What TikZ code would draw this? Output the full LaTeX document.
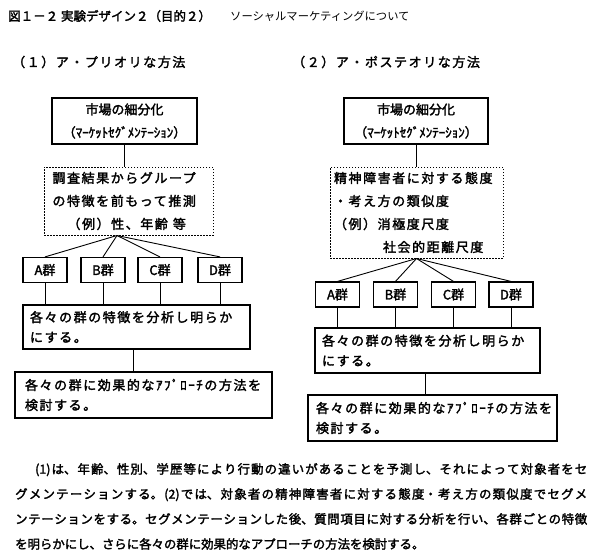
\documentclass[tikz,border=0pt]{standalone}
\usepackage{fontspec}
\setmainfont{Noto Sans CJK JP}[AutoFakeBold=2.2]
\newfontfamily\jpancho{Noto Sans CJK JP}[LetterSpace=12,AutoFakeBold=2.2]
\usetikzlibrary{positioning}
\tikzset{
	caja/.style={
		draw=black,
		line width=1.2pt,
		inner sep=0pt,
		align=left,
		font=\jpancho\bfseries\fontsize{13}{20}\selectfont
	},
	cajaMercado/.style={
		caja,
		minimum width=145pt,
		minimum height=46pt,
		align=center,
		font=\bfseries\fontsize{13}{23}\selectfont
	},
	cajaPunteada/.style={
		caja,
		line width=1pt,
		dash pattern=on 1.5pt off 1.5pt,
		font=\jpancho\bfseries\fontsize{13}{23}\selectfont
	},
	grupo/.style={
		draw=black,
		line width=1.2pt,
		minimum width=44pt,
		minimum height=25pt,
		inner sep=0pt,
		font=\bfseries\fontsize{13}{14}\selectfont
	},
	titulo/.style={
		anchor=west,
		inner sep=0pt
	},
	linea/.style={
		line width=0.9pt
	}
}

\begin{document}
\begin{tikzpicture}[x=1pt,y=-1pt]
		\useasboundingbox (0,0) rectangle (600,558);
		% titulos
		\node[titulo, font=\bfseries\fontsize{12.5}{14}\selectfont] (fig) at (8,16) {図１－２ 実験デザイン２（目的２）};
		\node[titulo, font=\fontsize{11.3}{14}\selectfont] (tema) at (230,16) {ソーシャルマーケティングについて};
		\node[titulo, font=\jpancho\bfseries\fontsize{13}{14}\selectfont] (metodo1) at (12,62) {（１）ア・プリオリな方法};
		\node[titulo, font=\jpancho\bfseries\fontsize{13}{14}\selectfont] (metodo2) at (292,62) {（２）ア・ポステオリな方法};
		% (1) a priori
		\node[cajaMercado] (mercado1) at (124.5,121) {市場の細分化\\（ﾏｰｹｯﾄｾｸﾞﾒﾝﾃｰｼｮﾝ）};
		\node[cajaPunteada, minimum width=169pt, minimum height=68pt, text width=152pt] (prediv1) at (128.5,201)
			{調査結果からグループ\\の特徴を前もって推測\\\hspace*{15pt}（例）性、年齢\hspace{5pt}等};
		\node[grupo] (grupoA1) at (45,270) {A群};
		\node[grupo] (grupoB1) at (103,270) {B群};
		\node[grupo] (grupoC1) at (160,270) {C群};
		\node[grupo] (grupoD1) at (220,270) {D群};
		\node[caja, minimum width=227pt, minimum height=44pt, text width=213pt] (analisis1) at (136.5,327)
			{各々の群の特徴を分析し明らか\\にする。};
		\node[caja, minimum width=257pt, minimum height=46pt, text width=237pt] (enfoque1) at (143.5,395)
			{各々の群に効果的なｱﾌﾟﾛｰﾁの方法を\\検討する。};
		% (2) a posteriori
		\node[cajaMercado, minimum width=144pt] (mercado2) at (416,121) {市場の細分化\\（ﾏｰｹｯﾄｾｸﾞﾒﾝﾃｰｼｮﾝ）};
		\node[cajaPunteada, minimum width=173pt, minimum height=91pt, text width=165pt] (prediv2) at (416.5,212.5)
			{精神障害者に対する態度\\・考え方の類似度\\（例）消極度尺度\\\hspace*{49pt}社会的距離尺度};
		\node[grupo] (grupoA2) at (337.5,294.5) {A群};
		\node[grupo] (grupoB2) at (395.5,294.5) {B群};
		\node[grupo] (grupoC2) at (453.5,294.5) {C群};
		\node[grupo] (grupoD2) at (511,294.5) {D群};
		\node[caja, minimum width=225pt, minimum height=45pt, text width=211pt] (analisis2) at (427.5,350.5)
			{各々の群の特徴を分析し明らか\\にする。};
		\node[caja, minimum width=249pt, minimum height=46pt, text width=233pt] (enfoque2) at (432.5,418)
			{各々の群に効果的なｱﾌﾟﾛｰﾁの方法を\\検討する。};
		% conexiones
		\draw[linea] (mercado1.south) -- (mercado1.south |- prediv1.north);
		\draw[linea] (mercado2.south) -- (mercado2.south |- prediv2.north);
		\foreach \g in {A,B,C,D} {
			\draw[linea] ([xshift=-11.5pt]prediv1.south) -- (grupo\g1.north);
			\draw[linea] (prediv2.south) -- (grupo\g2.north);
			\draw[linea] (grupo\g1.south) -- (grupo\g1.south |- analisis1.north);
			\draw[linea] (grupo\g2.south) -- (grupo\g2.south |- analisis2.north);
		}
		\draw[linea] ([xshift=-3pt]analisis1.south) -- ([xshift=-3pt]analisis1.south |- enfoque1.north);
		\draw[linea] ([xshift=-2pt]analisis2.south) -- ([xshift=-2pt]analisis2.south |- enfoque2.north);
		% texto
		\node[anchor=north west, inner sep=0pt, text width=572pt, align=justify,
			font=\bfseries\fontsize{12.4}{25}\selectfont] (texto) at (15,463)
			{\XeTeXlinebreaklocale "ja"\XeTeXlinebreakskip=0pt plus 4pt
			\hspace*{20pt}(1)は、年齢、性別、学歴等により行動の違いがあることを予測し、それによって対象者をセ\linebreak
			グメンテーションする。(2)では、対象者の精神障害者に対する態度・考え方の類似度でセグメ\linebreak
			ンテーションをする。セグメンテーションした後、質問項目に対する分析を行い、各群ごとの特徴\linebreak
			を明らかにし、さらに各々の群に効果的なアプローチの方法を検討する。};
	\end{tikzpicture}
\end{document}
